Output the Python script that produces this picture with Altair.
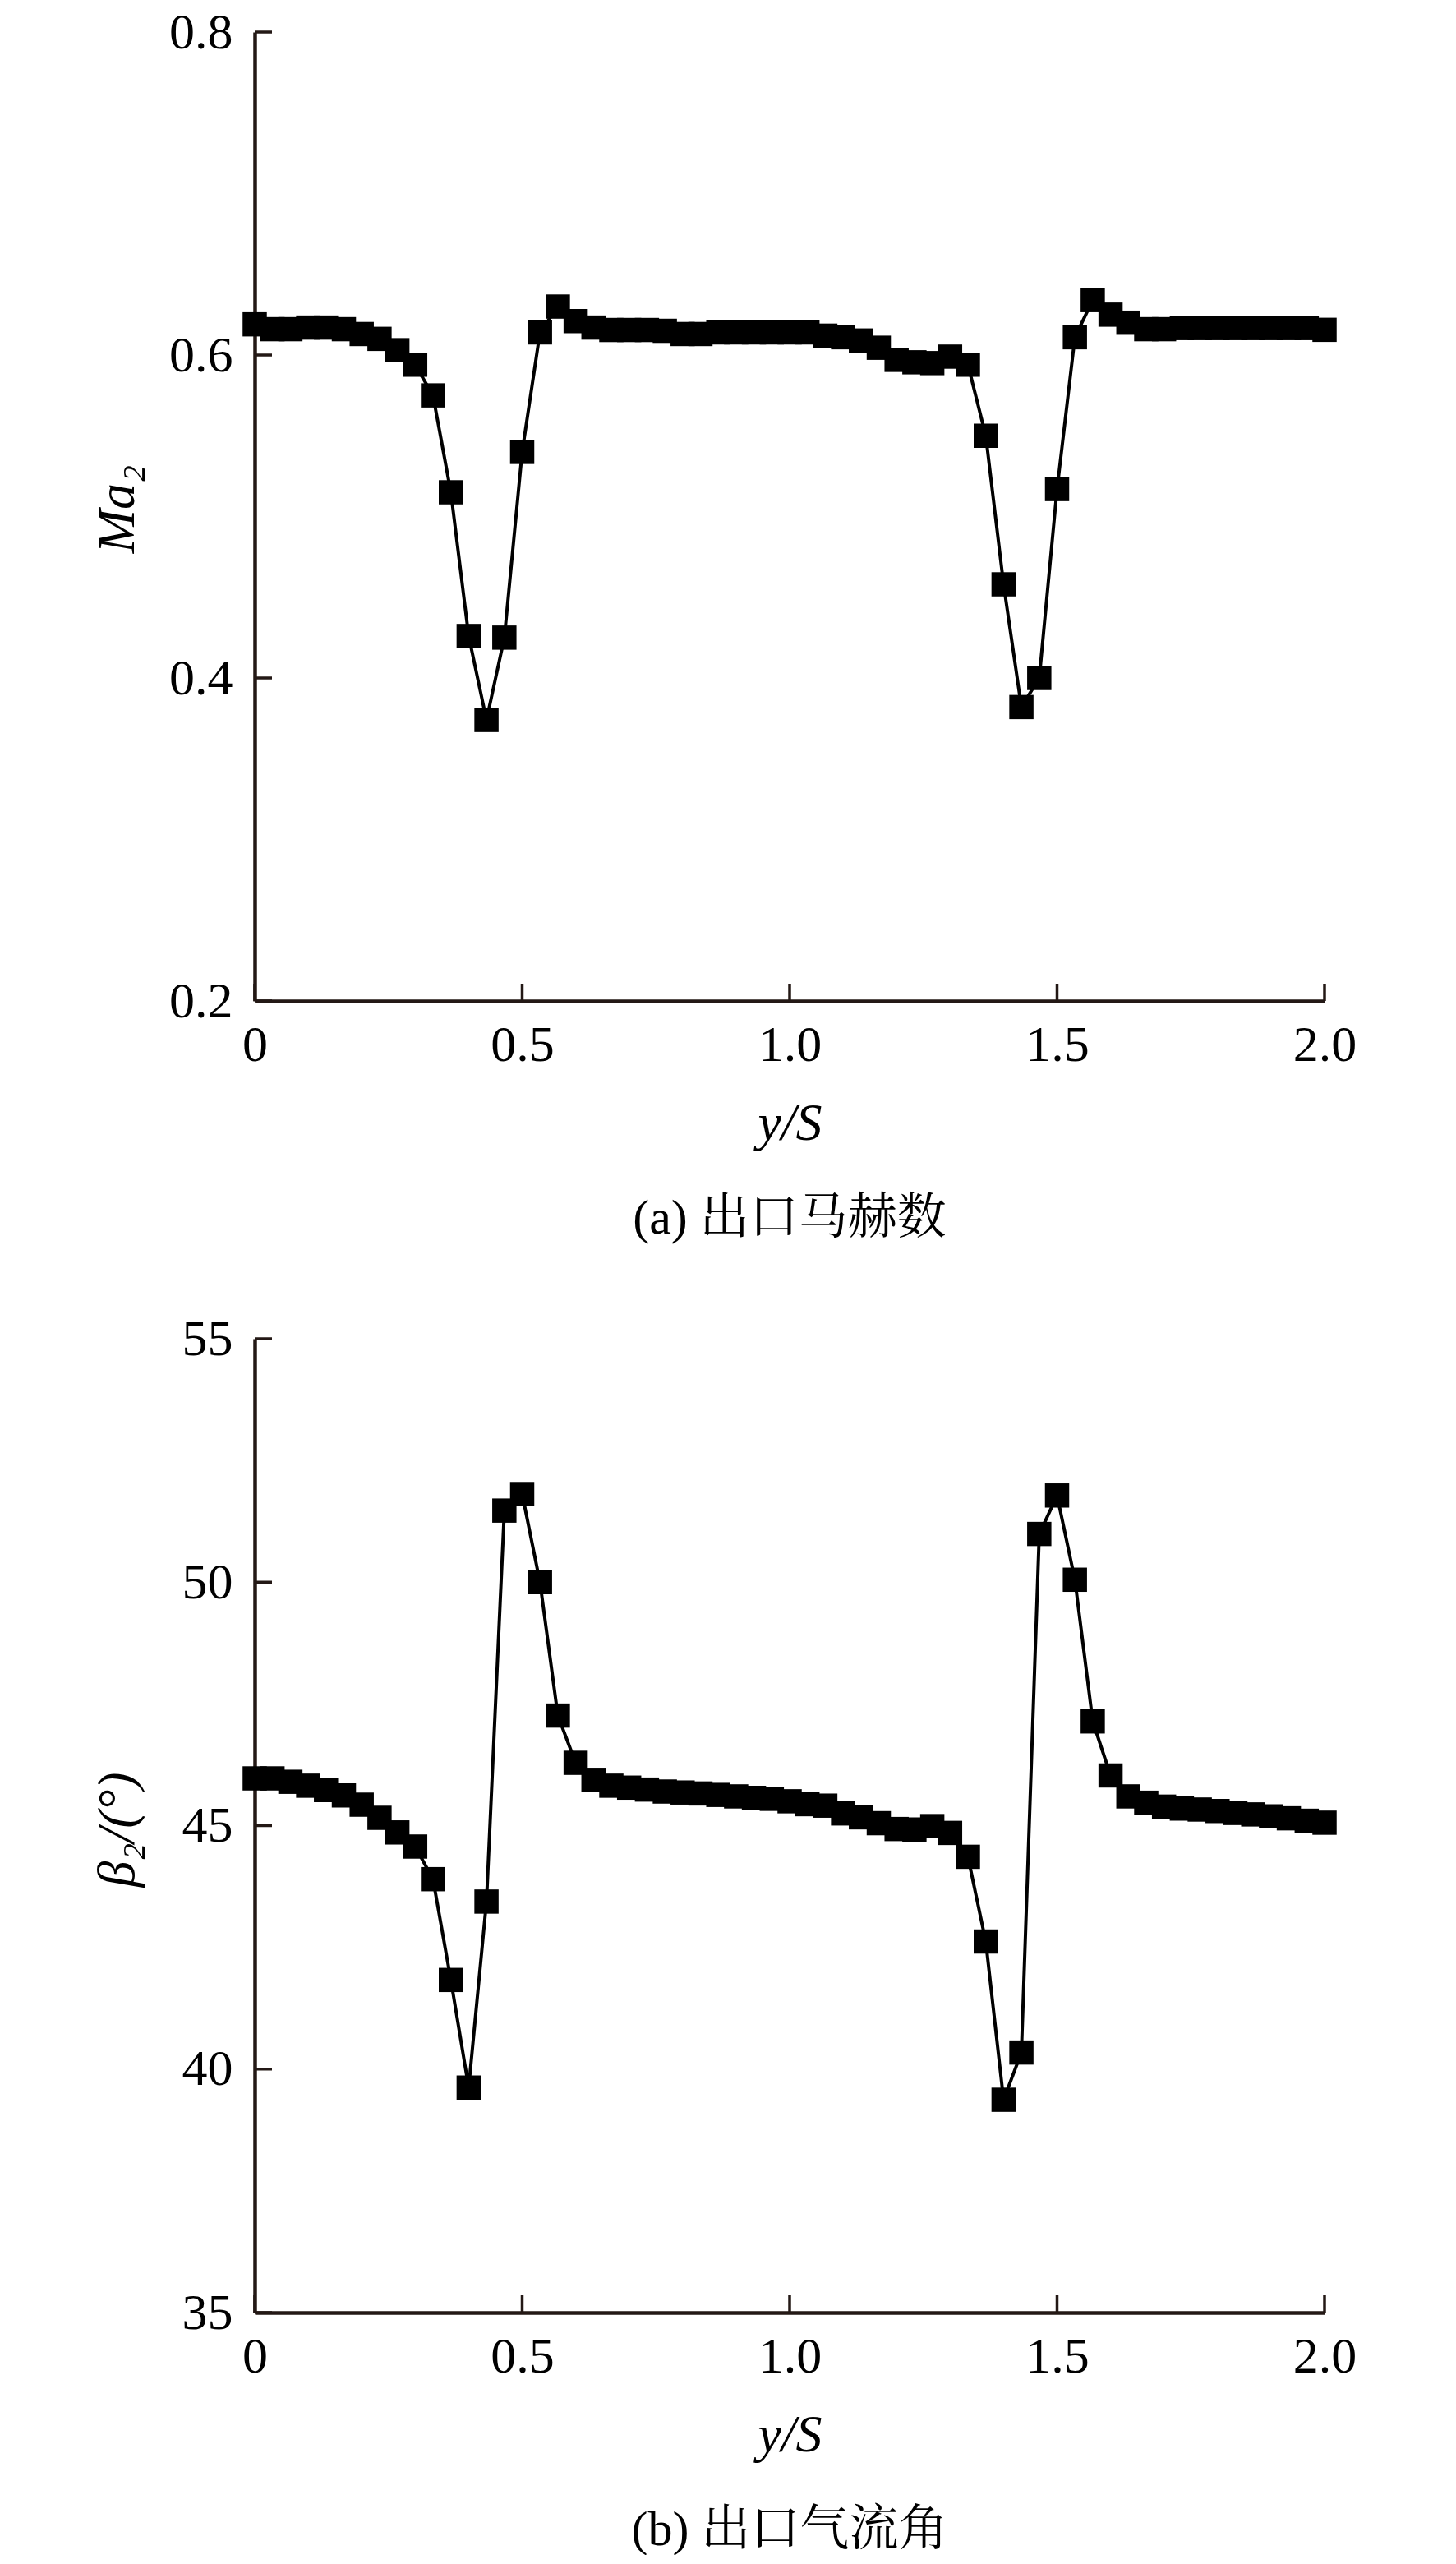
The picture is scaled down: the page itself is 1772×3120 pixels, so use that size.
import altair as alt
import pandas as pd

# y/S sample positions (61 points, step 1/30)
XS = [0.0, 0.0333, 0.0667, 0.1, 0.1333, 0.1667, 0.2, 0.2333, 0.2667, 0.3,
      0.3333, 0.3667, 0.4, 0.4333, 0.4667, 0.5, 0.5333, 0.5667, 0.6, 0.6333,
      0.6667, 0.7, 0.7333, 0.7667, 0.8, 0.8333, 0.8667, 0.9, 0.9333, 0.9667,
      1.0, 1.0333, 1.0667, 1.1, 1.1333, 1.1667, 1.2, 1.2333, 1.2667, 1.3,
      1.3333, 1.3667, 1.4, 1.4333, 1.4667, 1.5, 1.5333, 1.5667, 1.6, 1.6333,
      1.6667, 1.7, 1.7333, 1.7667, 1.8, 1.8333, 1.8667, 1.9, 1.9333, 1.9667,
      2.0]

# outlet Mach number
MA2 = [0.619, 0.616, 0.616, 0.617, 0.617, 0.616, 0.613, 0.610, 0.603, 0.594,
       0.575, 0.515, 0.426, 0.374, 0.425, 0.540, 0.614, 0.630, 0.621, 0.617,
       0.6155, 0.6155, 0.6155, 0.615, 0.613, 0.613, 0.614, 0.614, 0.614, 0.614,
       0.614, 0.614, 0.612, 0.611, 0.609, 0.6045, 0.597, 0.5955, 0.595, 0.599,
       0.594, 0.550, 0.458, 0.382, 0.400, 0.517, 0.611, 0.634, 0.625, 0.620,
       0.616, 0.616, 0.6167, 0.6167, 0.6167, 0.6167, 0.6167, 0.6167, 0.6167, 0.6167,
       0.6156]

# outlet flow angle
BETA2 = [45.97, 45.97, 45.90, 45.82, 45.73, 45.62, 45.43, 45.16, 44.86, 44.57,
         43.90, 41.83, 39.62, 43.44, 51.47, 51.81, 50.00, 47.26, 46.29, 45.94,
         45.82, 45.78, 45.74, 45.70, 45.68, 45.66, 45.63, 45.60, 45.57, 45.55,
         45.50, 45.44, 45.41, 45.25, 45.17, 45.05, 44.93, 44.92, 44.99, 44.85,
         44.36, 42.62, 39.37, 40.34, 50.99, 51.78, 50.05, 47.14, 46.03, 45.60,
         45.47, 45.39, 45.35, 45.33, 45.30, 45.26, 45.23, 45.19, 45.15, 45.10,
         45.06]

XTICKS = [0, 0.5, 1.0, 1.5, 2.0]
MA_TICKS = [0.2, 0.4, 0.6, 0.8]
BETA_TICKS = [35, 40, 45, 50, 55]

SERIF = "Liberation Serif"
CAP_FONT = "Liberation Serif, Noto Serif CJK SC, Noto Sans CJK SC"
AX = "#231815"
W = 1302
TICK_LEN = 21


def panel(yvals, ydom, yticks, ytitle, yfmt, caption, h, title_y):
    df = pd.DataFrame({"x": XS, "y": yvals})
    xsc = alt.Scale(domain=[0, 2], nice=False, zero=False)
    ysc = alt.Scale(domain=ydom, nice=False, zero=False)
    xaxis = alt.Axis(
        values=XTICKS,
        labelExpr="datum.value == 0 ? '0' : format(datum.value, '.1f')",
        title="y/S", titleX=W / 2, titleY=168, titleAlign="center",
        titleBaseline="alphabetic", labelBaseline="alphabetic", labelPadding=72,
        labelFlush=False, labelOverlap=False,
    )
    yaxis = alt.Axis(
        values=yticks, format=yfmt, title=ytitle, titleAngle=270,
        titleX=-148, titleY=title_y, titleAlign="center",
        titleBaseline="alphabetic", labelPadding=27, labelFlush=False,
        labelOverlap=False,
    )
    base = alt.Chart(df)
    line = base.mark_line(color="black", strokeWidth=4).encode(
        x=alt.X("x:Q", scale=xsc, axis=xaxis),
        y=alt.Y("y:Q", scale=ysc, axis=yaxis),
    )
    pts = base.mark_point(shape="square", filled=True, size=870,
                          color="black", opacity=1).encode(
        x=alt.X("x:Q", scale=xsc), y=alt.Y("y:Q", scale=ysc))
    xt = alt.Chart(pd.DataFrame({"x": XTICKS})).mark_rule(
        color=AX, strokeWidth=3.5).encode(
        x=alt.X("x:Q", scale=xsc),
        y=alt.value(h), y2=alt.value(h - TICK_LEN))
    yt = alt.Chart(pd.DataFrame({"y": yticks})).mark_rule(
        color=AX, strokeWidth=3.5).encode(
        y=alt.Y("y:Q", scale=ysc),
        x=alt.value(0), x2=alt.value(TICK_LEN))
    return alt.layer(line, pts, xt, yt).properties(
        width=W, height=h,
        title=alt.TitleParams(caption, orient="bottom", anchor="middle",
                              font=CAP_FONT, fontSize=60, fontWeight="normal",
                              color="black", baseline="alphabetic", offset=102),
    )


top = panel(MA2, [0.2, 0.8], MA_TICKS, "Ma₂", ".1f", "(a) 出口马赫数", 1179, 580)
bot = panel(BETA2, [35, 55], BETA_TICKS, "β₂/(°)", "d", "(b) 出口气流角", 1185, 597)

chart = alt.vconcat(top, bot, spacing=411, bounds="flush").properties(
    padding={"left": 103, "top": 0, "right": 20, "bottom": 0}
).configure_view(stroke=None).configure_axis(
    domainColor=AX, domainWidth=4.5, ticks=False, tickSize=0, grid=False,
    labelFont=SERIF, labelFontSize=62, labelColor="black",
    titleFont=SERIF, titleFontSize=64, titleFontStyle="italic",
    titleFontWeight="normal", titleColor="black",
)

chart.save("out.html", embed_options={"renderer": "svg", "actions": False})
